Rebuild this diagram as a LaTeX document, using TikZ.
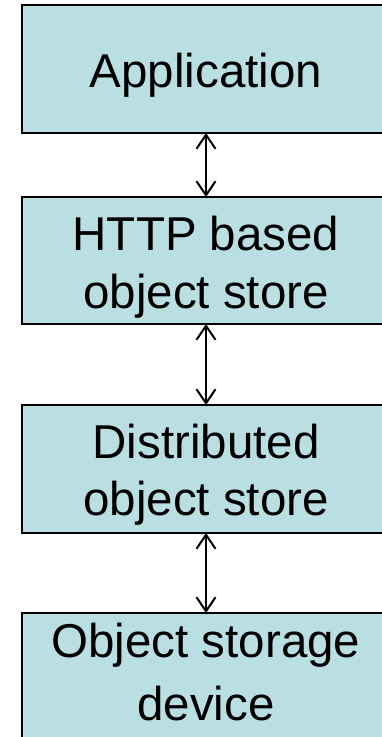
\documentclass[tikz,border=0pt]{standalone}
\usepackage{fontspec}
\setmainfont{Liberation Sans}
\usetikzlibrary{arrows.meta}
\definecolor{layerfill}{RGB}{185,223,227}
\tikzset{
  layer/.style={draw=black, line width=2pt, fill=layerfill, inner sep=0pt, outer sep=0pt,
                minimum width=368pt},
  label/.style={anchor=base, inner sep=0pt, font=\fontsize{47.5}{57}\selectfont},
  link/.style={line width=2pt, {Straight Barb[length=14pt,width=19pt]}-{Straight Barb[length=14pt,width=19pt]}}
}
\begin{document}
\begin{tikzpicture}[x=1pt,y=1pt]
  \useasboundingbox (0,0) rectangle (382,-737);
  \clip (0,0) rectangle (382,-737);
  % stacked layers
  \node[layer, minimum height=128pt] (app)  at (206,-69)    {};
  \node[layer, minimum height=127pt] (http) at (206,-260.5) {};
  \node[layer, minimum height=128pt] (dist) at (206,-469)   {};
  \node[layer, minimum height=132pt] (osd)  at (206,-679)   {};
  % layer captions
  \node[label] (appT)   at (206,-87)  {Application};
  \node[label] (httpT1) at (206,-250) {HTTP based};
  \node[label] (httpT2) at (206,-308) {object store};
  \node[label] (distT1) at (206,-458) {Distributed};
  \node[label] (distT2) at (206,-515) {object store};
  \node[label] (osdT1)  at (206,-657) {Object storage};
  \node[label] (osdT2)  at (206,-720) {device};
  % links between layers
  \draw[link] (app.south)  -- (http.north);
  \draw[link] (http.south) -- (dist.north);
  \draw[link] (dist.south) -- (osd.north);
\end{tikzpicture}
\end{document}
